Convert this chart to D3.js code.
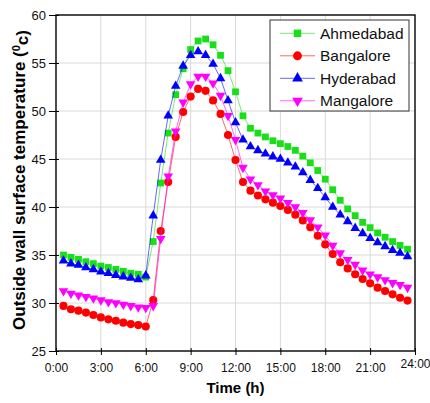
<!DOCTYPE html>
<html>
<head>
    <meta charset="utf-8">
    <title>Outside wall surface temperature</title>
    <script src="https://d3js.org/d3.v7.min.js"></script>
    <style>
        body { margin: 0; background: #fff; }
        text { font-family: "Liberation Sans", Arial, sans-serif; }
    </style>
</head>
<body>
<div id="chart"></div>
<script>
// hours of the day (every half hour)
var hours = [0.5, 1, 1.5, 2, 2.5, 3, 3.5, 4, 4.5, 5, 5.5, 6,
             6.5, 7, 7.5, 8, 8.5, 9, 9.5, 10, 10.5, 11, 11.5, 12,
             12.5, 13, 13.5, 14, 14.5, 15, 15.5, 16, 16.5, 17, 17.5, 18,
             18.5, 19, 19.5, 20, 20.5, 21, 21.5, 22, 22.5, 23, 23.5];

var ahmedabad = [35.0, 34.75, 34.55, 34.3, 34.1, 33.85, 33.7, 33.5, 33.3, 33.1, 33.0, 32.7,
                 36.4, 42.5, 47.7, 51.7, 54.4, 56.4, 57.3, 57.5, 56.9, 55.8, 54.2, 52.0,
                 49.5, 48.2, 47.7, 47.3, 46.9, 46.6, 46.3, 45.9, 45.3, 44.6, 43.8, 42.9,
                 41.8, 40.7, 39.8, 39.1, 38.4, 37.85, 37.3, 36.85, 36.4, 36.0, 35.6];

var bangalore = [29.7, 29.35, 29.2, 29.0, 28.75, 28.5, 28.3, 28.15, 27.95, 27.8, 27.7, 27.55,
                 30.3, 37.5, 42.6, 47.3, 49.9, 51.5, 52.3, 52.1, 51.1, 49.7, 47.5, 44.9,
                 42.6, 41.7, 41.2, 40.8, 40.45, 40.1, 39.7, 39.2, 38.6, 37.9, 37.0, 36.1,
                 35.1, 34.25, 33.6, 33.0, 32.5, 32.05, 31.6, 31.25, 30.9, 30.55, 30.25];

var hyderabad = [34.4, 34.1, 33.95, 33.7, 33.5, 33.25, 33.1, 32.9, 32.75, 32.6, 32.45, 32.85,
                 39.1, 44.9, 49.5, 52.6, 54.7, 55.8, 56.2, 55.8, 54.9, 53.4, 51.1, 48.8,
                 47.0, 46.3, 45.9, 45.55, 45.25, 45.0, 44.6, 44.2, 43.6, 42.8, 41.95, 41.0,
                 40.0, 39.2, 38.5, 37.8, 37.25, 36.75, 36.3, 35.9, 35.5, 35.2, 34.85];

var mangalore = [31.25, 31.0, 30.8, 30.65, 30.5, 30.3, 30.1, 30.0, 29.85, 29.7, 29.55, 29.5,
                 29.7, 36.7, 43.2, 47.9, 50.9, 52.8, 53.6, 53.6, 52.9, 51.6, 49.5, 47.0,
                 44.1, 42.9, 42.3, 41.65, 41.25, 40.9, 40.45, 40.0, 39.4, 38.65, 37.9, 37.05,
                 36.0, 35.2, 34.5, 34.0, 33.4, 33.0, 32.7, 32.4, 32.1, 31.9, 31.6];

var cities = ["Ahmedabad", "Bangalore", "Hyderabad", "Mangalore"];
var cityValues = [ahmedabad, bangalore, hyderabad, mangalore];

var xTickValues = [0, 3, 6, 9, 12, 15, 18, 21, 24];
var xTickLabels = ["0:00", "3:00", "6:00", "9:00", "12:00", "15:00", "18:00", "21:00", "24:00"];
var yTickValues = [25, 30, 35, 40, 45, 50, 55, 60];

// styles per series
var colors = ["#18e018", "#ff0000", "#0000ff", "#ff00ff"];
var symbols = [d3.symbolSquare, d3.symbolCircle, d3.symbolTriangle, d3.symbolTriangle];
var symbolSizes = [46, 52, 40, 40];
var rotations = [0, 0, 0, 180];

(function() {
    var W = 430, H = 403;
    // plot box (note: "top" is reserved on window, so use other names)
    var pLeft = 56, pRight = 415, pTop = 15, pBottom = 351;

    var svg = d3.select("#chart").append("svg")
        .attr("width", W)
        .attr("height", H);

    var x = d3.scaleLinear().domain([0, 24]).range([pLeft, pRight]);
    var y = d3.scaleLinear().domain([25, 60]).range([pBottom, pTop]);

    // grid
    var grid = svg.append("g").attr("class", "grid");
    grid.selectAll(".vg")
        .data(xTickValues.slice(1, -1))
        .enter().append("line")
        .attr("x1", function(d) { return x(d); })
        .attr("x2", function(d) { return x(d); })
        .attr("y1", pTop).attr("y2", pBottom)
        .attr("stroke", "#d9d9d9").attr("stroke-width", 1);
    grid.selectAll(".hg")
        .data(yTickValues.slice(1, -1))
        .enter().append("line")
        .attr("y1", function(d) { return y(d); })
        .attr("y2", function(d) { return y(d); })
        .attr("x1", pLeft).attr("x2", pRight)
        .attr("stroke", "#d9d9d9").attr("stroke-width", 1);

    // axes
    var xAxis = svg.append("g")
        .attr("transform", "translate(0," + pBottom + ")")
        .call(d3.axisBottom(x)
            .tickValues(xTickValues)
            .tickFormat(function(d, i) { return xTickLabels[i]; })
            .tickSize(4)
            .tickPadding(8));
    xAxis.select(".domain").remove();
    xAxis.selectAll(".tick line").attr("y1", -3).attr("stroke", "#000");
    xAxis.selectAll(".tick text")
        .style("font-size", "12px")
        .attr("fill", "#111")
        .attr("dy", function(d) { return d === 24 ? "0.45em" : "0.71em"; });

    var yAxis = svg.append("g")
        .attr("transform", "translate(" + pLeft + ",0)")
        .call(d3.axisLeft(y)
            .tickValues(yTickValues)
            .tickSize(7)
            .tickPadding(3));
    yAxis.select(".domain").remove();
    yAxis.selectAll(".tick line").attr("x1", 3).attr("stroke", "#000");
    yAxis.selectAll(".tick text")
        .style("font-size", "13px")
        .attr("fill", "#111");

    // frame
    svg.append("rect")
        .attr("x", pLeft).attr("y", pTop)
        .attr("width", pRight - pLeft).attr("height", pBottom - pTop)
        .attr("fill", "none")
        .attr("stroke", "#000")
        .attr("stroke-width", 1.4);

    // series
    var line = d3.line()
        .x(function(d) { return x(d[0]); })
        .y(function(d) { return y(d[1]); });

    cities.forEach(function(city, k) {
        var pts = hours.map(function(h, i) { return [h, cityValues[k][i]]; });
        var g = svg.append("g").attr("class", "series");
        g.append("path")
            .datum(pts)
            .attr("d", line)
            .attr("fill", "none")
            .attr("stroke", colors[k])
            .attr("stroke-opacity", 0.6)
            .attr("stroke-width", 1);
        g.selectAll("path.pt")
            .data(pts)
            .enter().append("path")
            .attr("class", "pt")
            .attr("d", d3.symbol().type(symbols[k]).size(symbolSizes[k]))
            .attr("transform", function(d) {
                return "translate(" + x(d[0]) + "," + y(d[1]) + ") rotate(" + rotations[k] + ")";
            })
            .attr("fill", colors[k]);
    });

    // legend
    var legend = svg.append("g").attr("class", "legend");
    legend.append("rect")
        .attr("x", 270).attr("y", 20)
        .attr("width", 139).attr("height", 91)
        .attr("fill", "#fff")
        .attr("stroke", "#333")
        .attr("stroke-width", 1);

    cities.forEach(function(city, k) {
        var ly = 33.3 + k * 22.5;
        legend.append("line")
            .attr("x1", 280).attr("x2", 315)
            .attr("y1", ly).attr("y2", ly)
            .attr("stroke", colors[k])
            .attr("stroke-opacity", 0.6)
            .attr("stroke-width", 1);
        legend.append("path")
            .attr("d", d3.symbol().type(symbols[k]).size(symbolSizes[k] + 10))
            .attr("transform", "translate(297.5," + ly + ") rotate(" + rotations[k] + ")")
            .attr("fill", colors[k]);
        legend.append("text")
            .attr("x", 320).attr("y", ly)
            .attr("dy", "0.36em")
            .style("font-size", "15.5px")
            .attr("fill", "#111")
            .text(city);
    });

    // axis titles
    svg.append("text")
        .attr("x", (pLeft + pRight) / 2)
        .attr("y", 393)
        .attr("text-anchor", "middle")
        .style("font-size", "15px")
        .style("font-weight", "bold")
        .text("Time (h)");

    var yTitle = svg.append("text")
        .attr("transform", "translate(25,180) rotate(-90)")
        .attr("text-anchor", "middle")
        .style("font-size", "17px")
        .style("font-weight", "bold");
    yTitle.append("tspan").text("Outside wall surface temperature (");
    yTitle.append("tspan").attr("dy", "-0.45em").style("font-size", "11px").text("0");
    yTitle.append("tspan").attr("dy", "0.45em").text("c)");
})();
</script>
</body>
</html>
